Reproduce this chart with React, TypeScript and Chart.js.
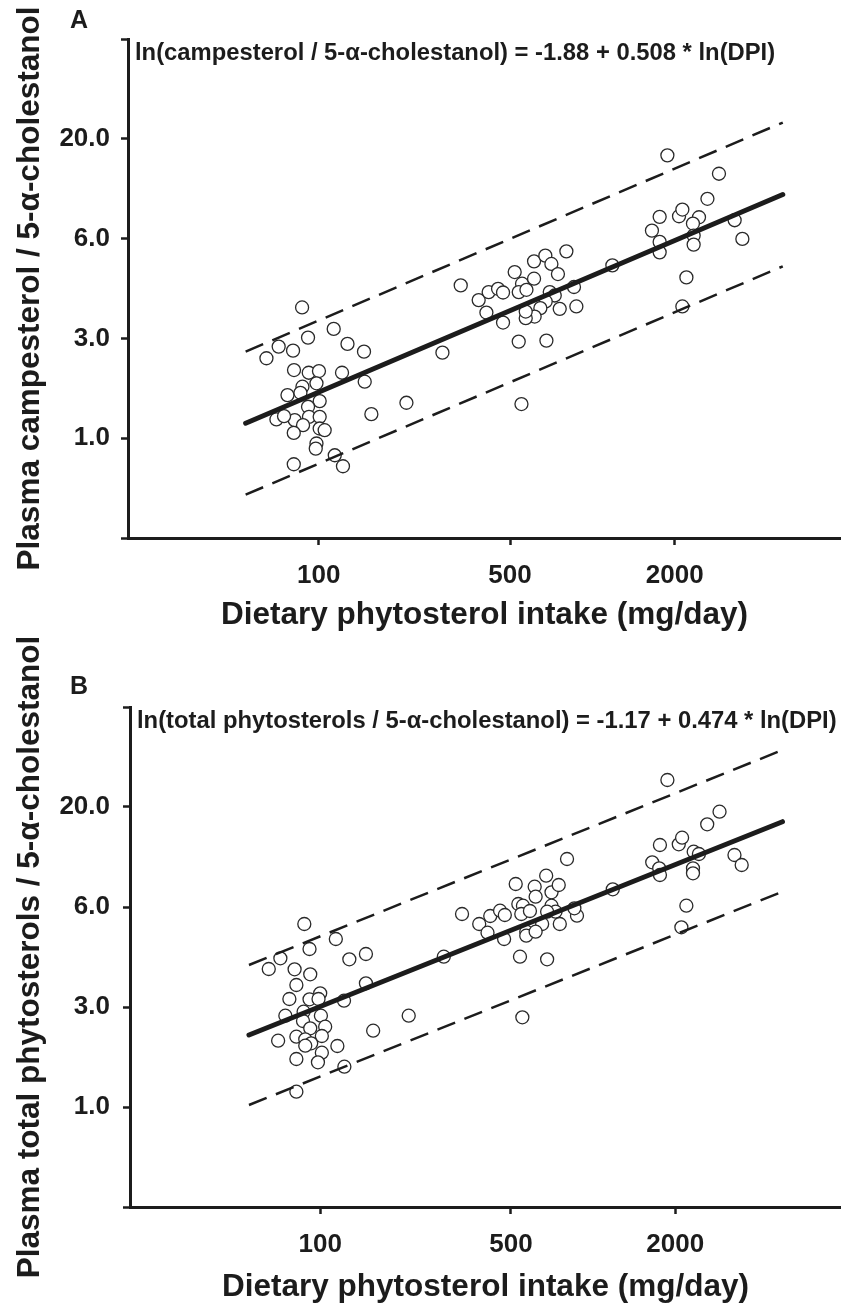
import React, { useEffect, useRef } from "react";
import { Chart, registerables } from "chart.js";

Chart.register(...registerables);

// ---------- axis ticks ----------
const xTickValues = [100, 500, 2000]; // mg/day (axis is ln(DPI))
const xTickLabels = ["100", "500", "2000"];
const yTickPositions = [-1, 0, 1, 2, 3, 4]; // ln(ratio) units
const yTickLabels = ["", "1.0", "3.0", "6.0", "20.0", ""];

// ---------- Panel A: ln(DPI) vs ln(campesterol / 5-α-cholestanol) ----------
const lnDpiA = [
  4.465, 4.731, 4.515, 4.268, 4.389, 4.165, 4.847, 4.986, 4.397, 4.521,
  4.607, 4.801, 4.586, 4.468, 4.992, 4.342, 4.451, 4.613, 4.515, 4.249,
  4.403, 4.523, 4.613, 4.473, 4.395, 4.613, 4.655, 4.586, 4.58, 5.048,
  5.343, 4.74, 4.809, 4.395, 4.313,
  5.646, 5.8, 5.951, 6.035, 6.114, 6.156, 6.016, 6.156, 6.254, 6.316,
  6.288, 6.353, 6.417, 6.512, 6.563, 6.417, 6.618, 6.689, 6.549, 6.591,
  6.515, 6.47, 6.422, 6.347, 6.347, 6.633, 6.753, 6.773, 6.288, 6.521,
  6.311, 7.076, 7.539, 7.474, 7.409, 7.474, 7.474, 7.637, 7.665, 7.805,
  7.754, 7.76, 7.76, 7.876, 7.973, 8.105, 8.17, 7.699, 7.665,
];
const lnRatioA = [
  1.31, 1.095, 1.008, 0.918, 0.877, 0.801, 0.945, 0.867, 0.683, 0.656,
  0.673, 0.656, 0.55, 0.516, 0.566, 0.432, 0.455, 0.372, 0.315, 0.188,
  0.181, 0.214, 0.214, 0.131, 0.053, 0.097, 0.08, -0.053, -0.104, 0.241,
  0.355, -0.171, -0.281, -0.261, 0.221,
  0.857, 1.531, 1.384, 1.464, 1.497, 1.46, 1.259, 1.159, 1.665, 1.548,
  1.464, 1.487, 1.772, 1.829, 1.746, 1.598, 1.645, 1.872, 1.464, 1.43,
  1.37, 1.303, 1.219, 1.203, 1.269, 1.296, 1.515, 1.32, 0.968, 0.978,
  0.342, 1.732, 2.834, 2.218, 2.08, 1.967, 1.862, 2.224, 2.291, 2.214,
  2.151, 2.03, 1.94, 2.399, 2.65, 2.184, 1.997, 1.611, 1.32,
];
const fitXA = [3.99, 8.51];
const fitYA = [0.15, 2.442];
const upperYA = [0.867, 3.163];
const lowerYA = [-0.566, 1.722];

// ---------- Panel B: ln(DPI) vs ln(total phytosterols / 5-α-cholestanol) ----------
const lnDpiB = [
  4.471, 4.737, 4.515, 4.269, 4.171, 4.389, 4.521, 4.851, 4.991, 4.404,
  4.991, 4.345, 4.515, 4.605, 4.591, 4.806, 4.311, 4.465, 4.611, 4.46,
  4.521, 4.647, 4.25, 4.404, 4.479, 4.619, 4.529, 4.479, 4.619, 4.75,
  4.404, 4.586, 4.809, 4.404, 5.052, 5.352,
  5.648, 5.802, 5.947, 6.04, 6.123, 6.163, 6.017, 6.157, 6.255, 6.277,
  6.316, 6.302, 6.375, 6.415, 6.423, 6.512, 6.557, 6.618, 6.688, 6.557,
  6.591, 6.52, 6.478, 6.344, 6.344, 6.423, 6.627, 6.772, 6.75, 6.291,
  6.52, 6.311, 7.074, 7.535, 7.472, 7.407, 7.466, 7.472, 7.631, 7.659,
  7.757, 7.801, 7.751, 7.751, 7.871, 7.975, 8.101, 8.162, 7.695, 7.653,
];
const lnRatioB = [
  1.83, 1.68, 1.58, 1.487, 1.38, 1.377, 1.327, 1.477, 1.53, 1.22,
  1.237, 1.08, 1.077, 1.137, 1.08, 1.063, 0.913, 0.953, 0.913, 0.86,
  0.787, 0.803, 0.663, 0.703, 0.677, 0.71, 0.637, 0.613, 0.543, 0.61,
  0.48, 0.447, 0.403, 0.153, 0.763, 0.913,
  1.503, 1.93, 1.83, 1.91, 1.963, 1.92, 1.743, 1.68, 2.23, 2.03,
  2.013, 1.93, 1.96, 2.203, 2.103, 2.313, 2.147, 2.22, 2.48, 2.013,
  1.953, 1.953, 1.83, 1.753, 1.713, 1.753, 1.83, 1.913, 1.987, 1.503,
  1.477, 0.897, 2.177, 3.27, 2.62, 2.447, 2.387, 2.32, 2.627, 2.693,
  2.553, 2.53, 2.387, 2.337, 2.827, 2.953, 2.52, 2.42, 2.013, 1.797,
];
const fitXB = [4.004, 8.506];
const fitYB = [0.72, 2.853];
const upperYB = [1.42, 3.57];
const lowerYB = [0.02, 2.153];

const FONT = '"Liberation Sans", Arial, Helvetica, sans-serif';
const INK = "#1c1c1c";
const W = 841;

type PanelProps = {
  letter: string;
  equation: string;
  yTitle: string;
  xs: number[];
  ys: number[];
  fitX: number[];
  fitY: number[];
  upY: number[];
  loY: number[];
  top: number;
  height: number;
  padTop: number;
  yAxisWidth: number;
  xAxisHeight: number;
  yTickPad: number;
  xTitlePadBottom: number;
  letterY: number;
};

function Panel(p: PanelProps) {
  const ref = useRef<HTMLCanvasElement | null>(null);
  useEffect(() => {
    if (!ref.current) return;
    const pts = p.xs.map((x, i) => ({ x, y: p.ys[i] }));
    const line = (ys: number[]) => p.fitX.map((x, i) => ({ x, y: ys[i] }));
    const annot = {
      id: "annot",
      afterDraw(chart: any) {
        const { ctx, chartArea } = chart;
        ctx.save();
        ctx.fillStyle = INK;
        ctx.textBaseline = "middle";
        ctx.textAlign = "center";
        ctx.font = `bold 25px ${FONT}`;
        ctx.fillText(p.letter, 79, p.letterY);
        ctx.textAlign = "left";
        ctx.font = `bold 23.8px ${FONT}`;
        ctx.fillText(p.equation, chartArea.left + 7, chartArea.top + 14);
        ctx.restore();
      },
    };
    const chart = new Chart(ref.current, {
      type: "scatter",
      data: {
        datasets: [
          {
            data: line(p.fitY),
            showLine: true,
            borderColor: INK,
            borderWidth: 5,
            pointRadius: 0,
            borderCapStyle: "round",
          } as any,
          {
            data: line(p.upY),
            showLine: true,
            borderColor: INK,
            borderWidth: 2.5,
            borderDash: [19, 10],
            pointRadius: 0,
          } as any,
          {
            data: line(p.loY),
            showLine: true,
            borderColor: INK,
            borderWidth: 2.5,
            borderDash: [19, 10],
            pointRadius: 0,
          } as any,
          {
            data: pts,
            pointRadius: 6.5,
            pointHoverRadius: 6.5,
            pointBorderWidth: 1.3,
            pointBorderColor: "#2a2a2a",
            pointBackgroundColor: "#ffffff",
          } as any,
        ],
      },
      options: {
        animation: false,
        responsive: false,
        maintainAspectRatio: false,
        events: [],
        layout: { autoPadding: false, padding: { top: p.padTop, left: 0, right: 0, bottom: 0 } },
        plugins: { legend: { display: false }, tooltip: { enabled: false } },
        scales: {
          x: {
            type: "linear",
            position: "bottom",
            min: 3,
            max: 9,
            border: { display: true, width: 3, color: INK },
            grid: {
              display: true,
              drawOnChartArea: false,
              drawTicks: true,
              tickLength: 7,
              tickWidth: 2.5,
              tickColor: INK,
            },
            afterBuildTicks: (s: any) => {
              s.ticks = xTickValues.map((v) => ({ value: Math.log(v) }));
            },
            afterFit: (s: any) => {
              s.height = p.xAxisHeight;
            },
            ticks: {
              autoSkip: false,
              maxRotation: 0,
              padding: 15,
              color: INK,
              font: { family: FONT, size: 26, weight: "bold" },
              callback: (_v: any, i: number) => xTickLabels[i],
            },
            title: {
              display: true,
              text: "Dietary phytosterol intake (mg/day)",
              color: INK,
              font: { family: FONT, size: 31.5, weight: "bold" },
              padding: { top: 0, bottom: p.xTitlePadBottom },
            },
          },
          y: {
            type: "linear",
            position: "left",
            min: -1,
            max: 4,
            border: { display: true, width: 3, color: INK },
            grid: {
              display: true,
              drawOnChartArea: false,
              drawTicks: true,
              tickLength: 7,
              tickWidth: 2.5,
              tickColor: INK,
            },
            afterBuildTicks: (s: any) => {
              s.ticks = yTickPositions.map((v) => ({ value: v }));
            },
            afterFit: (s: any) => {
              s.width = p.yAxisWidth;
            },
            ticks: {
              autoSkip: false,
              padding: p.yTickPad,
              color: INK,
              font: { family: FONT, size: 26, weight: "bold" },
              callback: (_v: any, i: number) => yTickLabels[i],
            },
            title: {
              display: true,
              text: p.yTitle,
              color: INK,
              font: { family: FONT, size: 31.5, weight: "bold" },
              padding: { top: 11, bottom: 0 },
            },
          },
        },
      } as any,
      plugins: [annot],
    });
    return () => chart.destroy();
  }, []);
  return (
    <canvas
      ref={ref}
      width={W}
      height={p.height}
      style={{ position: "absolute", left: 0, top: p.top, display: "block", width: W, height: p.height }}
    />
  );
}

export default function App() {
  return (
    <div style={{ position: "absolute", left: 0, top: 0, width: W, height: 1306, background: "#fff" }}>
      <Panel
        letter="A"
        equation="ln(campesterol / 5-α-cholestanol) = -1.88 + 0.508 * ln(DPI)"
        yTitle="Plasma campesterol / 5-α-cholestanol"
        xs={lnDpiA}
        ys={lnRatioA}
        fitX={fitXA}
        fitY={fitYA}
        upY={upperYA}
        loY={lowerYA}
        top={0}
        height={653}
        padTop={39}
        yAxisWidth={128}
        xAxisHeight={115}
        yTickPad={11}
        xTitlePadBottom={19}
        letterY={21}
      />
      <Panel
        letter="B"
        equation="ln(total phytosterols / 5-α-cholestanol) = -1.17 + 0.474 * ln(DPI)"
        yTitle="Plasma total phytosterols / 5-α-cholestanol"
        xs={lnDpiB}
        ys={lnRatioB}
        fitX={fitXB}
        fitY={fitYB}
        upY={upperYB}
        loY={lowerYB}
        top={600}
        height={706}
        padTop={107}
        yAxisWidth={130}
        xAxisHeight={99}
        yTickPad={13}
        xTitlePadBottom={0}
        letterY={87}
      />
    </div>
  );
}
